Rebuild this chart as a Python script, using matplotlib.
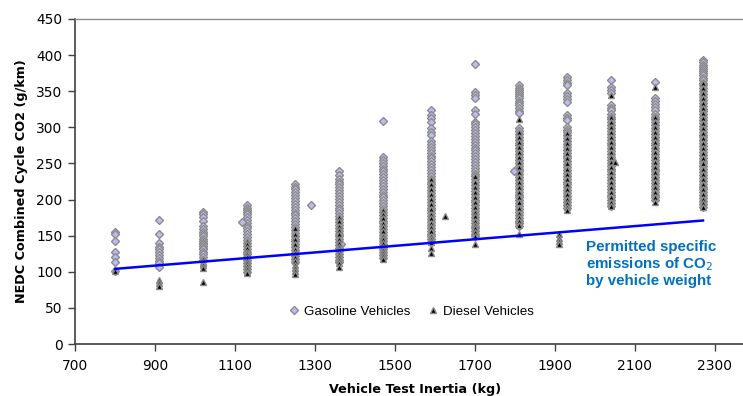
import matplotlib
matplotlib.use("Agg")
import matplotlib.pyplot as plt
from matplotlib.lines import Line2D

plt.rcParams['font.family'] = ['DejaVu Sans']

# ---- data (g/km CO2 by vehicle test inertia class, kg) ----
gas_800 = [155, 152, 143, 127, 120, 113, 101]
diesel_800 = [101]
gas_910 = [172, 152, 140, 135, 132, 127, 123, 119, 115, 112, 106]
diesel_910 = [88, 85, 80]
gas_1020 = [183, 180, 176, 170, 163, 159, 155, 152, 149, 146, 143, 140, 138, 136, 133, 131, 128, 125, 120, 116]
diesel_1020 = [118, 114, 112, 109, 105, 86]
gas_1130 = [192, 189, 186, 183, 180, 176, 172, 168, 164, 160, 156, 152, 148, 144, 140, 136, 132, 128, 124, 120, 116, 112, 108, 104, 100]
diesel_1130 = [143, 138, 133, 128, 124, 120, 116, 112, 108, 104, 100, 98]
gas_1250 = [222, 218, 214, 210, 206, 202, 198, 194, 190, 186, 182, 178, 174, 170, 166, 162, 158, 154, 150, 146, 142, 138, 134, 130, 126, 122, 118, 114]
diesel_1250 = [160, 152, 145, 138, 132, 126, 120, 115, 110, 105, 101, 97]
gas_1360 = [239, 234, 229, 225, 221, 217, 213, 209, 205, 201, 197, 193, 189, 185, 181, 177, 173, 169, 165, 161, 157, 153, 149, 145, 141, 137, 133, 129, 125, 121, 117, 113]
diesel_1360 = [176, 170, 164, 158, 152, 146, 140, 135, 130, 125, 120, 116, 112, 107]
gas_1470 = [309, 259, 255, 251, 247, 243, 239, 235, 231, 227, 223, 219, 215, 211, 207, 203, 199, 195, 191, 187, 183, 179, 175, 171, 167, 163, 159, 155, 151, 147, 143, 139, 135, 131, 127, 123, 119]
diesel_1470 = [186, 180, 174, 168, 162, 156, 150, 145, 140, 135, 130, 126, 122, 118]
gas_1590 = [324, 317, 313, 308, 299, 294, 290, 281, 277, 273, 269, 265, 261, 257, 253, 249, 245, 241, 237, 233, 229, 225, 221, 217, 213, 209, 205, 201, 197, 193, 189, 185, 181, 177, 173, 169, 165, 161, 157, 153, 149, 145, 141]
diesel_1590 = [229, 222, 215, 208, 201, 194, 187, 180, 174, 168, 162, 156, 150, 145, 141, 133, 126]
gas_1700 = [388, 349, 345, 340, 324, 319, 308, 304, 300, 296, 292, 288, 284, 280, 276, 272, 268, 264, 260, 256, 252, 248, 244, 240, 236, 232, 228, 224, 220, 216, 212, 208, 204, 200, 196, 192, 188, 184, 180, 176, 172, 168, 164, 160, 156, 152, 149]
diesel_1700 = [232, 225, 218, 211, 204, 197, 190, 183, 177, 171, 165, 160, 155, 150, 139]
gas_1810 = [358, 355, 352, 349, 346, 343, 340, 337, 334, 331, 327, 323, 320, 299, 295, 291, 287, 283, 279, 275, 271, 267, 263, 259, 255, 251, 247, 243, 239, 235, 231, 227, 223, 219, 215, 211, 207, 203, 199, 195, 191, 187, 183, 179, 175, 171, 167, 163]
diesel_1810 = [311, 294, 287, 280, 273, 266, 259, 252, 245, 238, 231, 224, 217, 210, 203, 196, 189, 182, 176, 170, 165, 153]
gas_1930 = [370, 366, 362, 358, 347, 343, 339, 335, 317, 313, 310, 301, 297, 293, 289, 285, 281, 277, 273, 269, 265, 261, 257, 253, 249, 245, 241, 237, 233, 229, 225, 221, 217, 213, 209, 205, 201, 197, 193, 189]
diesel_1930 = [292, 285, 278, 271, 264, 257, 250, 243, 236, 229, 222, 215, 208, 201, 195, 190, 186]
gas_2040 = [366, 356, 352, 348, 331, 327, 324, 319, 315, 311, 307, 303, 299, 295, 291, 287, 283, 279, 275, 271, 267, 263, 259, 255, 251, 247, 243, 239, 235, 231, 227, 223, 219, 215, 211, 207, 203, 199, 195, 191]
diesel_2040 = [345, 315, 308, 301, 294, 287, 280, 273, 266, 259, 252, 245, 238, 231, 224, 217, 210, 203, 197, 191]
gas_2150 = [363, 340, 336, 332, 328, 324, 319, 315, 311, 307, 303, 299, 295, 291, 287, 283, 279, 275, 271, 267, 263, 259, 255, 251, 247, 243, 239, 235, 231, 227, 223, 219, 215, 211, 207, 203, 199]
diesel_2150 = [356, 315, 308, 301, 294, 287, 280, 273, 266, 259, 252, 245, 238, 231, 224, 217, 210, 203, 197]
gas_2270 = [393, 390, 387, 384, 381, 378, 375, 372, 369, 366, 362, 358, 354, 350, 346, 342, 338, 334, 330, 326, 322, 318, 314, 310, 306, 302, 298, 294, 290, 286, 282, 278, 274, 270, 266, 262, 258, 254, 250, 246, 242, 238, 234, 230, 226, 222, 218, 214, 210, 206, 202, 198, 194, 190]
diesel_2270 = [361, 355, 348, 341, 334, 327, 320, 313, 306, 299, 292, 285, 278, 271, 264, 257, 250, 243, 236, 229, 222, 215, 208, 201, 195, 190]

inertia_classes = [800, 910, 1020, 1130, 1250, 1360, 1470, 1590, 1700, 1810, 1930, 2040, 2150, 2270]
gasoline = [gas_800, gas_910, gas_1020, gas_1130, gas_1250, gas_1360, gas_1470,
            gas_1590, gas_1700, gas_1810, gas_1930, gas_2040, gas_2150, gas_2270]
diesel = [diesel_800, diesel_910, diesel_1020, diesel_1130, diesel_1250, diesel_1360, diesel_1470,
          diesel_1590, diesel_1700, diesel_1810, diesel_1930, diesel_2040, diesel_2150, diesel_2270]

gas_extra_x = [1117, 1290, 1366, 1797]
gas_extra_y = [169, 193, 139, 240]
diesel_extra_x = [1625, 1910, 1910, 1910, 1910, 2050]
diesel_extra_y = [177, 153, 147, 142, 138, 252]

limit_x = [800, 2270]
limit_y = [104, 171]

x_ticks = [700, 900, 1100, 1300, 1500, 1700, 1900, 2100, 2300]
y_ticks = [0, 50, 100, 150, 200, 250, 300, 350, 400, 450]

# ---- figure ----
W, H = 743, 396
fig = plt.figure(figsize=(W / 100, H / 100), dpi=100)
ax = fig.add_axes([75 / W, 52 / H, (755 - 75) / W, 325 / H])

gas_face = '#BCBCEE'
gas_edge = '#8C8C8C'
dsl_face = '#000000'
dsl_edge = '#8C8C8C'

gx, gy = [], []
for xc, vals in zip(inertia_classes, gasoline):
    gx += [xc] * len(vals)
    gy += vals
gx += gas_extra_x
gy += gas_extra_y

dx, dy = [], []
for xc, vals in zip(inertia_classes, diesel):
    dx += [xc] * len(vals)
    dy += vals
dx += diesel_extra_x
dy += diesel_extra_y

ax.plot(gx, gy, linestyle='none', marker='D', markersize=3.9,
        markerfacecolor=gas_face, markeredgecolor=gas_edge, markeredgewidth=1.0, zorder=2)
ax.plot(dx, dy, linestyle='none', marker='^', markersize=4.3,
        markerfacecolor=dsl_face, markeredgecolor=dsl_edge, markeredgewidth=1.0, zorder=3)

ax.plot(limit_x, limit_y, color='#0000FF', linewidth=1.8, zorder=4)

ax.set_xlim(700, 2400)
ax.set_ylim(0, 450)
ax.set_xticks(x_ticks)
ax.set_yticks(y_ticks)
ax.tick_params(axis='both', direction='out', length=5, width=1, color='#404040',
               labelsize=9.9, labelcolor='#000000')
ax.tick_params(axis='x', pad=6)
ax.tick_params(axis='y', pad=4)

for s in ['left', 'bottom']:
    ax.spines[s].set_color('#404040')
    ax.spines[s].set_linewidth(1.2)
ax.spines['top'].set_color('#8C8C8C')
ax.spines['top'].set_linewidth(1.0)
ax.spines['right'].set_visible(False)

ax.set_xlabel('Vehicle Test Inertia (kg)', fontsize=9.2, fontweight='bold', labelpad=7)
ax.set_ylabel('NEDC Combined Cycle CO2 (g/km)', fontsize=9.2, fontweight='bold', labelpad=6)

ax.text(1978, 143.5, 'Permitted specific\nemissions of CO$_2$\nby vehicle weight',
        color='#0070C0', fontsize=10.9, fontweight='bold', va='top', ha='left',
        linespacing=1.1, family=['Liberation Sans', 'DejaVu Sans'])

handles = [
    Line2D([], [], linestyle='none', marker='D', markersize=3.9,
           markerfacecolor=gas_face, markeredgecolor=gas_edge, markeredgewidth=1.0),
    Line2D([], [], linestyle='none', marker='^', markersize=4.3,
           markerfacecolor=dsl_face, markeredgecolor=dsl_edge, markeredgewidth=1.0),
]
leg = ax.legend(handles, ['Gasoline Vehicles', 'Diesel Vehicles'], loc='center',
                bbox_to_anchor=(0.496, 0.10), ncol=2, frameon=False,
                prop={'family': ['Liberation Sans', 'DejaVu Sans'], 'size': 9.6},
                handlelength=0.6, handletextpad=0.45, columnspacing=1.4)

fig.savefig('out.png', dpi=100)
